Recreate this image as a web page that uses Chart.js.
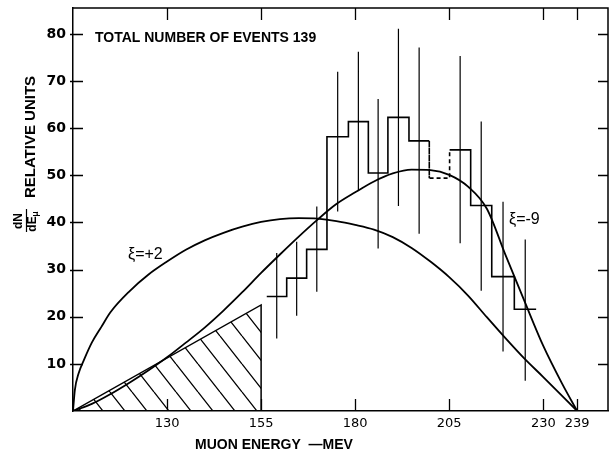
<!DOCTYPE html>
<html>
<head>
<meta charset="utf-8">
<script src="https://cdn.jsdelivr.net/npm/chart.js@4.4.1/dist/chart.umd.min.js"></script>
<style>
  html, body { margin: 0; padding: 0; background: #fff; }
  canvas { display: block; }
</style>
</head>
<body>
<canvas id="muonChart" width="610" height="456"></canvas>
<script>
// axis ticks
var xTickValues = [130, 155, 180, 205, 230, 239];
var yTickValues = [10, 20, 30, 40, 50, 60, 70, 80];

// theory curves (MeV, relative units)
var xiPlus2E = [105, 105.5, 106.5, 108, 110, 112.5, 115, 120, 125, 130, 135, 140, 145, 150, 155, 160, 165, 170, 175, 180, 185, 190, 195, 200, 205, 210, 215, 220, 225, 230, 235, 239];
var xiPlus2Y = [0, 4.5, 8, 11, 14.5, 17.8, 21.0, 25.4, 28.9, 31.7, 34.2, 36.2, 37.8, 39.1, 40.1, 40.7, 40.9, 40.8, 40.3, 39.5, 38.5, 36.9, 34.6, 31.7, 28.4, 24.5, 19.9, 15.4, 11.1, 7.2, 3.2, 0];

var xiMinus9E = [105, 110, 115, 120, 125, 130, 135, 140, 145, 150, 155, 160, 165, 170, 175, 180, 185, 190, 195, 200, 205, 210, 215, 220, 225, 230, 235, 239];
var xiMinus9Y = [0, 1.5, 3.6, 6.0, 8.6, 11.4, 14.5, 17.7, 21.3, 25.2, 29.3, 33.2, 37.0, 40.6, 43.9, 46.4, 48.7, 50.4, 51.2, 51.1, 50.1, 47.6, 42.9, 33.0, 23.3, 13.8, 5.8, 0];

// hatched triangle
var hatchE = [105, 155, 155];
var hatchY = [0, 22.5, 0];

// histogram
var binEdges = [156.5, 161.8, 167.1, 172.5, 178.2, 183.5, 188.7, 194.3, 199.7, 205.1, 210.7, 216.3, 222.3, 228.1];
var binCounts = [24.3, 28.2, 34.3, 58.2, 61.4, 50.5, 62.3, 57.3, 49.4, 55.4, 43.6, 28.5, 21.6];
var dashedBin = 8;
var errLow = [15.4, 20.2, 25.3, 42.3, 46.9, 34.5, 43.5, 37.6, null, 35.6, 25.5, 12.6, 6.4];
var errHigh = [33.5, 35.9, 43.4, 72.0, 76.2, 66.2, 81.1, 77.1, null, 75.3, 61.4, 44.4, 36.4];

function pairs(xs, ys) {
  return xs.map(function(v, i) { return {x: v, y: ys[i]}; });
}

// step outline of the histogram
var histPts = [];
binCounts.forEach(function(c, i) {
  histPts.push({x: binEdges[i], y: c});
  histPts.push({x: binEdges[i + 1], y: c});
});
var dashedSegs = [2 * dashedBin - 1, 2 * dashedBin, 2 * dashedBin + 1];

// error bars, separated by gaps
var errPts = [];
binCounts.forEach(function(c, i) {
  if (errLow[i] === null) return;
  var mid = (binEdges[i] + binEdges[i + 1]) / 2;
  errPts.push({x: mid, y: errLow[i]});
  errPts.push({x: mid, y: errHigh[i]});
  errPts.push({x: mid, y: null});
});

// diagonal hatch pattern
var tile = document.createElement('canvas');
tile.width = 22; tile.height = 28;
var tc = tile.getContext('2d');
tc.strokeStyle = '#000';
tc.lineWidth = 1.3;
tc.beginPath();
tc.moveTo(0, 0); tc.lineTo(22, 28);
tc.moveTo(-22, 0); tc.lineTo(0, 28);
tc.moveTo(22, 0); tc.lineTo(44, 28);
tc.stroke();
var ctx = document.getElementById('muonChart').getContext('2d');
var hatch = ctx.createPattern(tile, 'repeat');

var LIB = '"Liberation Sans", Arial, sans-serif';

var annotations = {
  id: 'annotations',
  afterDatasetsDraw: function(chart) {
    var c = chart.ctx, a = chart.chartArea, sx = chart.scales.x, sy = chart.scales.y;
    c.save();
    c.strokeStyle = '#000';
    c.lineWidth = 1.5;
    c.beginPath();
    c.moveTo(a.left, a.top); c.lineTo(a.right, a.top); c.lineTo(a.right, a.bottom);
    c.stroke();
    c.lineWidth = 1.3;
    c.beginPath();
    sy.ticks.forEach(function(t) {
      var py = Math.round(sy.getPixelForValue(t.value)) + 0.5;
      c.moveTo(a.left - 3, py); c.lineTo(a.left + 10, py);
      c.moveTo(a.right - 10, py); c.lineTo(a.right, py);
    });
    sx.ticks.forEach(function(t) {
      var px = Math.round(sx.getPixelForValue(t.value)) + 0.5;
      c.moveTo(px, a.bottom); c.lineTo(px, a.bottom - 12);
      c.moveTo(px, a.top); c.lineTo(px, a.top + 12);
    });
    c.stroke();

    c.fillStyle = '#000';
    c.textBaseline = 'middle';
    c.textAlign = 'left';
    c.font = 'bold 14px ' + LIB;
    c.fillText('TOTAL NUMBER OF EVENTS 139', 95, 38);
    c.font = '16px ' + LIB;
    c.fillText('\u03BE=+2', 128, 255);
    c.fillText('\u03BE=-9', 509, 220);

    // x axis title
    c.font = 'bold 14px ' + LIB;
    c.fillText('MUON ENERGY  \u2014MEV', 195, 445);

    // y axis title
    c.save();
    c.translate(31, 137);
    c.rotate(-Math.PI / 2);
    c.textAlign = 'center';
    c.font = 'bold 15px ' + LIB;
    c.fillText('RELATIVE UNITS', 0, 0);
    c.restore();

    c.save();
    c.translate(26, 221);
    c.rotate(-Math.PI / 2);
    c.textAlign = 'center';
    c.font = 'bold 12px ' + LIB;
    c.fillText('dN', 0, -7);
    c.fillText('dE', -3, 7);
    c.font = 'bold 9px ' + LIB;
    c.fillText('\u03BC', 7, 10);
    c.lineWidth = 1.2;
    c.beginPath();
    c.moveTo(-11, 0.5); c.lineTo(12, 0.5);
    c.stroke();
    c.restore();

    c.restore();
  }
};

new Chart(ctx, {
  type: 'scatter',
  data: {
    datasets: [
      {
        label: 'xi = +2',
        data: pairs(xiPlus2E, xiPlus2Y),
        showLine: true, borderColor: '#000', borderWidth: 1.8,
        pointRadius: 0, cubicInterpolationMode: 'monotone'
      },
      {
        label: 'xi = -9',
        data: pairs(xiMinus9E, xiMinus9Y),
        showLine: true, borderColor: '#000', borderWidth: 1.8,
        pointRadius: 0, cubicInterpolationMode: 'monotone'
      },
      {
        label: 'histogram',
        data: histPts,
        showLine: true, borderColor: '#000', borderWidth: 1.6,
        pointRadius: 0, tension: 0,
        segment: {
          borderDash: function(s) { return dashedSegs.indexOf(s.p0DataIndex) >= 0 ? [4, 3] : undefined; }
        }
      },
      {
        label: 'errors',
        data: errPts,
        showLine: true, spanGaps: false, borderColor: '#000', borderWidth: 1.2,
        pointRadius: 0, tension: 0
      },
      {
        label: 'hatched',
        data: pairs(hatchE, hatchY),
        showLine: true, borderColor: '#000', borderWidth: 1.5,
        pointRadius: 0, tension: 0,
        fill: 'origin', backgroundColor: hatch
      }
    ]
  },
  options: {
    responsive: false,
    animation: false,
    layout: { padding: { top: 8, right: 2, left: 0, bottom: 0 } },
    plugins: { legend: { display: false }, tooltip: { enabled: false } },
    scales: {
      x: {
        type: 'linear', min: 105, max: 247.2,
        afterBuildTicks: function(s) { s.ticks = xTickValues.map(function(v) { return {value: v}; }); },
        afterFit: function(s) { s.height = 45; s.paddingLeft = 0; s.paddingRight = 0; },
        grid: { display: false, drawTicks: false },
        border: { display: true, color: '#000', width: 1.5 },
        ticks: {
          autoSkip: false, maxRotation: 0, padding: 5, color: '#000',
          font: { family: '"DejaVu Sans", sans-serif', size: 13 }
        }
      },
      y: {
        min: 0, max: 85.5,
        afterBuildTicks: function(s) { s.ticks = yTickValues.map(function(v) { return {value: v}; }); },
        afterFit: function(s) { s.width = 73; s.paddingTop = 0; s.paddingBottom = 0; },
        grid: { display: false, drawTicks: false },
        border: { display: true, color: '#000', width: 1.5 },
        ticks: {
          autoSkip: false, padding: 7, color: '#000',
          font: { family: '"DejaVu Sans", sans-serif', size: 14, weight: 'bold' }
        }
      }
    }
  },
  plugins: [annotations]
});
</script>
</body>
</html>
